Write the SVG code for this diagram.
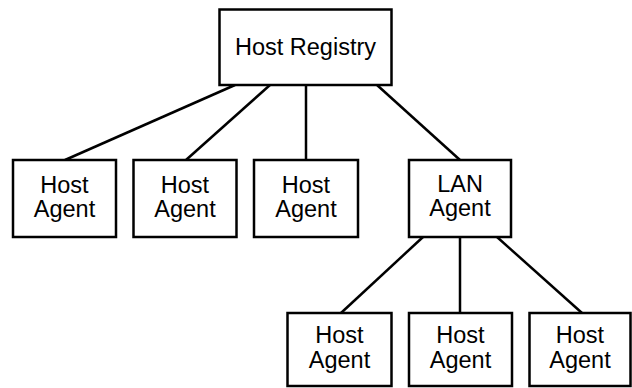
<svg xmlns="http://www.w3.org/2000/svg" width="632" height="388" viewBox="0 0 632 388">
  <style>
    .box { fill: #ffffff; stroke: #000000; stroke-width: 2.5; }
    .lbl { font-family: "Liberation Sans", Arial, sans-serif; font-size: 23.5px; fill: #000000; text-anchor: middle; }
    .conn line { stroke: #000000; stroke-width: 2.5; }
  </style>
  <rect width="632" height="388" fill="#ffffff"/>

  <g id="connectors" class="conn">
    <line x1="235" y1="85" x2="65" y2="160"/>
    <line x1="270" y1="85" x2="186" y2="160"/>
    <line x1="306" y1="85" x2="306" y2="160"/>
    <line x1="377" y1="85" x2="460" y2="160"/>
    <line x1="423" y1="237" x2="341" y2="313"/>
    <line x1="460" y1="237" x2="460" y2="313"/>
    <line x1="497" y1="237" x2="582" y2="313"/>
  </g>

  <g id="host-registry">
    <rect class="box" x="219.5" y="9.5" width="172" height="75.5"/>
    <text class="lbl" x="305.5" y="55">Host Registry</text>
  </g>

  <g id="host-agent-1">
    <rect class="box" x="13" y="160" width="103" height="77"/>
    <text class="lbl" x="64.5" y="193">Host</text>
    <text class="lbl" x="64.5" y="217">Agent</text>
  </g>
  <g id="host-agent-2">
    <rect class="box" x="133.5" y="160" width="103" height="77"/>
    <text class="lbl" x="185" y="193">Host</text>
    <text class="lbl" x="185" y="217">Agent</text>
  </g>
  <g id="host-agent-3">
    <rect class="box" x="254" y="160" width="104" height="77"/>
    <text class="lbl" x="306" y="193">Host</text>
    <text class="lbl" x="306" y="217">Agent</text>
  </g>
  <g id="lan-agent">
    <rect class="box" x="409" y="160" width="102" height="77"/>
    <text class="lbl" x="460" y="192">LAN</text>
    <text class="lbl" x="460" y="216">Agent</text>
  </g>

  <g id="host-agent-4">
    <rect class="box" x="287.5" y="313" width="104" height="73"/>
    <text class="lbl" x="339.5" y="343">Host</text>
    <text class="lbl" x="339.5" y="368">Agent</text>
  </g>
  <g id="host-agent-5">
    <rect class="box" x="409" y="313" width="103" height="73"/>
    <text class="lbl" x="460.5" y="343">Host</text>
    <text class="lbl" x="460.5" y="368">Agent</text>
  </g>
  <g id="host-agent-6">
    <rect class="box" x="529.5" y="313" width="101" height="73"/>
    <text class="lbl" x="580" y="343">Host</text>
    <text class="lbl" x="580" y="368">Agent</text>
  </g>
</svg>
